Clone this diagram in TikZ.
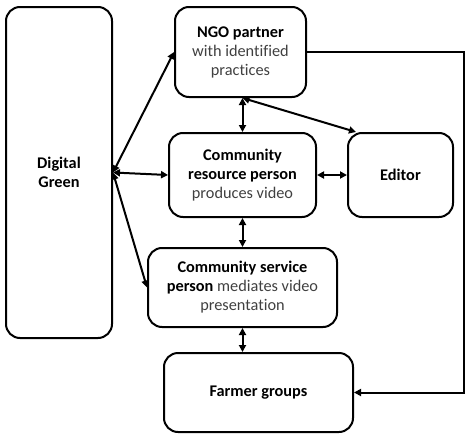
\documentclass[tikz,border=0pt]{standalone}
\usepackage{fontspec}
\setmainfont{Carlito}[Ligatures=NoCommon]
\usepackage{xcolor}
\usepackage{tikz}
\usetikzlibrary{arrows.meta}
\usetikzlibrary{calc}
\usetikzlibrary{positioning}
\definecolor{grigio}{rgb}{0.25,0.25,0.25}

\begin{document}
\begin{tikzpicture}[x=1pt,y=-1pt,
  box/.style={draw,rounded corners=14pt,line width=2pt,align=center,
    inner sep=0pt,font=\fontsize{16.3}{19}\selectfont},
  link/.style={line width=2pt,{Triangle[length=7pt,width=7pt]}-{Triangle[length=7pt,width=7pt]}},
  oneway/.style={line width=2pt,-{Triangle[length=7pt,width=7pt]}}]
  \useasboundingbox (0,0) rectangle (474,439);
  \node[box,minimum width=106pt,minimum height=331pt] (dg) at (59,172.5) {\textbf{Digital}\\\textbf{Green}};
  \node[box,minimum width=131pt,minimum height=90pt] (ngo) at (240.5,52)
    {\textbf{NGO partner}\\\textcolor{grigio}{with identified}\\\textcolor{grigio}{practices}};
  \node[box,minimum width=147pt,minimum height=84pt] (crp) at (242.5,175)
    {\textbf{Community}\\\textbf{resource person}\\\textcolor{grigio}{produces video}};
  \node[box,minimum width=105pt,minimum height=84pt] (editor) at (400.5,175) {\textbf{Editor}};
  \node[box,minimum width=189pt,minimum height=79pt] (csp) at (242.5,287.5)
    {\textbf{Community service}\\\textbf{person} \textcolor{grigio}{mediates video}\\\textcolor{grigio}{presentation}};
  \node[box,minimum width=189pt,minimum height=79pt] (farmer) at (258.5,392.5) {\textbf{Farmer groups}};

  \coordinate (rail) at (464,0);
  \coordinate (edtop) at ($(editor.north west)+(9,0)$);

  \draw[link] (dg.east) -- (ngo.west);
  \draw[link] (dg.east) -- (crp.west);
  \draw[link] (dg.east) -- (csp.west);
  \draw[link] (crp.north |- ngo.south) -- (crp.north);
  \draw[link] (crp.north |- ngo.south) -- (edtop);
  \draw[link] (crp.east) -- (editor.west);
  \draw[link] (crp.south) -- (csp.north);
  \draw[link] (csp.south) -- (csp.south |- farmer.north);
  \draw[oneway] (ngo.east) -- (ngo.east -| rail) |- (farmer.east);

\end{tikzpicture}
\end{document}
